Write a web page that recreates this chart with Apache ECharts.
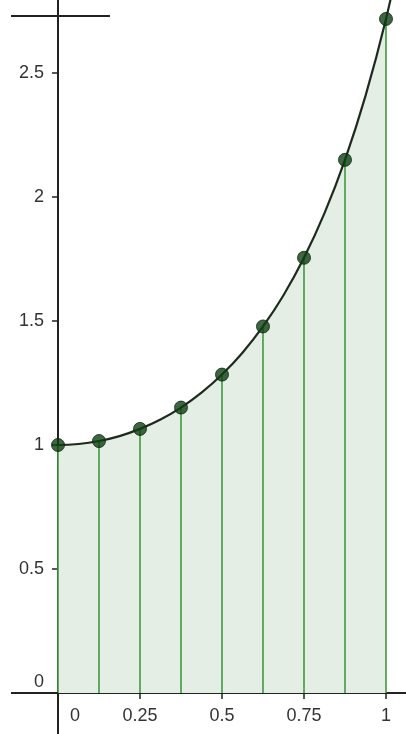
<!DOCTYPE html>
<html lang="en">
<head>
    <meta charset="UTF-8">
    <script src="https://cdn.jsdelivr.net/npm/echarts@6.0.0/dist/echarts.min.js"></script>
    <title>e^(x^2) sample points</title>
    <style>
      html, body { margin: 0; padding: 0; background: #fff; }
    </style>
</head>
<body>
    <div id="main" style="width: 406px;height:734px;"></div>
    <script type="text/javascript">
      // curve
      var curveX = [-0.143, -0.125, -0.0625, 0, 0.0625, 0.125, 0.1875, 0.25, 0.3125, 0.375, 0.4375,
                    0.5, 0.5625, 0.625, 0.6875, 0.75, 0.8125, 0.875, 0.9375, 1, 1.0625];
      var curveY = [1.021, 1.016, 1.004, 1, 1.004, 1.016, 1.036, 1.065, 1.103, 1.151, 1.211,
                    1.284, 1.372, 1.478, 1.604, 1.755, 1.935, 2.150, 2.408, 2.718, 3.092];
      // sample points with vertical lines
      var sampleX = [0, 0.125, 0.25, 0.375, 0.5, 0.625, 0.75, 0.875, 1];
      var sampleY = [1, 1.016, 1.065, 1.151, 1.284, 1.478, 1.755, 2.150, 2.718];
      var xTicks = [0, 0.25, 0.5, 0.75, 1];
      var yTicks = [0, 0.5, 1, 1.5, 2, 2.5];

      var curveData = curveX.map(function (x, i) { return [x, curveY[i]]; });
      var areaData = curveData.filter(function (d) { return d[0] >= 0 && d[0] <= 1; });
      var sampleData = sampleX.map(function (x, i) { return [x, sampleY[i]]; });

      var myChart = echarts.init(document.getElementById('main'));
      var fontFam = 'Liberation Sans, Arial, sans-serif';

      var option = {
        animation: false,
        grid: { left: 58, right: 0, top: 0, bottom: 41 },
        xAxis: {
          type: 'value',
          min: 0, max: 1.061,
          axisLine: { lineStyle: { color: '#222', width: 2 } },
          axisTick: { customValues: xTicks, length: 6, lineStyle: { color: '#222', width: 1.5 } },
          axisLabel: {
            customValues: xTicks, margin: 14,
            color: '#333', fontSize: 18, fontFamily: fontFam,
            formatter: function (v) { return v === 0 ? '{z|0}' : String(v); },
            rich: { z: { padding: [0, 0, 0, 34], fontSize: 18, color: '#333', fontFamily: fontFam } }
          },
          splitLine: { show: false }
        },
        yAxis: {
          type: 'value',
          min: 0, max: 2.7944,
          axisLine: { lineStyle: { color: '#222', width: 2 } },
          axisTick: { customValues: yTicks, length: 6, lineStyle: { color: '#222', width: 1.5 } },
          axisLabel: {
            customValues: yTicks, margin: 14,
            color: '#333', fontSize: 18, fontFamily: fontFam,
            formatter: function (v) { return v === 0 ? '{z|0}' : String(v); },
            rich: { z: { padding: [0, 0, 22, 0], fontSize: 18, color: '#333', fontFamily: fontFam } }
          },
          splitLine: { show: false }
        },
        graphic: [
          // stray segment at the top left, axis stubs outside the grid
          { type: 'line', shape: { x1: 11, y1: 16, x2: 110, y2: 16 }, style: { stroke: '#222', lineWidth: 2 }, z: 10 },
          { type: 'line', shape: { x1: 11, y1: 693, x2: 58, y2: 693 }, style: { stroke: '#222', lineWidth: 2 }, z: 10 },
          { type: 'line', shape: { x1: 58, y1: 693, x2: 58, y2: 734 }, style: { stroke: '#222', lineWidth: 2 }, z: 10 }
        ],
        series: [
          {
            name: 'area',
            type: 'line',
            data: areaData,
            smooth: 0.3,
            showSymbol: false,
            lineStyle: { width: 0 },
            areaStyle: { color: '#e4eee4', opacity: 1 },
            z: 1
          },
          {
            name: 'stems',
            type: 'bar',
            data: sampleData,
            barWidth: 1.6,
            itemStyle: { color: '#3f9a3f' },
            z: 2
          },
          {
            name: 'curve',
            type: 'line',
            data: curveData,
            smooth: 0.3,
            clip: false,
            showSymbol: false,
            lineStyle: { color: '#1f2a1f', width: 2.2 },
            z: 3
          },
          {
            name: 'points',
            type: 'scatter',
            data: sampleData,
            symbolSize: 13,
            clip: false,
            itemStyle: { color: '#0f4013', borderColor: '#072409', borderWidth: 1 },
            z: 4
          }
        ]
      };

      myChart.setOption(option);
    </script>
</body>
</html>
